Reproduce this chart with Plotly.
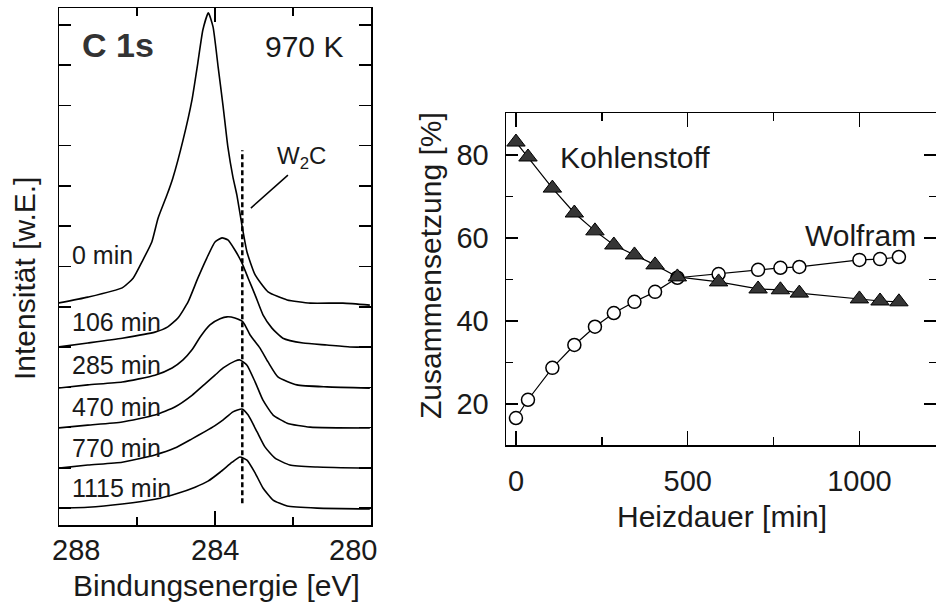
import plotly.graph_objects as go

# ---------------- Left panel: C 1s spectra (binding energy [eV], intensity [arb. units, stacked]) -------------
e_0 = [288.03, 287.26, 286.38, 286.10, 285.85, 285.62, 285.46, 285.23, 285.08, 284.82, 284.59, 284.44,
       284.31, 284.17, 284.05, 283.92, 283.79, 283.67, 283.54, 283.44, 283.31,
       283.18, 282.97, 282.64, 282.15, 281.56, 280.72, 280.03]
i_0 = [5.09, 5.24, 5.47, 5.71, 6.16, 6.61, 7.20, 7.78, 8.20, 9.14, 10.14, 11.06,
       11.88, 12.30, 11.95, 10.96, 9.96, 8.97, 8.22, 7.78, 7.03,
       6.36, 5.79, 5.37, 5.17, 5.09, 5.09, 5.04]

e_106 = [288.03, 287.26, 286.38, 285.54, 285.21, 284.95, 284.69, 284.44, 284.21, 284.00, 283.82, 283.67,
         283.49, 283.31, 283.15, 282.97, 282.77, 282.54, 282.26, 281.74, 281.13, 280.54, 280.03]
i_106 = [4.00, 4.10, 4.22, 4.37, 4.50, 4.72, 5.12, 5.71, 6.21, 6.61, 6.71, 6.66,
         6.41, 6.09, 5.71, 5.29, 4.80, 4.47, 4.22, 4.10, 4.05, 4.00, 4.00]

e_285 = [288.03, 287.26, 286.38, 285.54, 285.10, 284.82, 284.59, 284.38, 284.13, 283.87, 283.69, 283.49,
         283.28, 283.10, 282.85, 282.64, 282.38, 281.90, 281.13, 280.03]
i_285 = [2.98, 3.06, 3.13, 3.30, 3.48, 3.68, 3.93, 4.25, 4.55, 4.70, 4.75, 4.72,
         4.62, 4.30, 3.98, 3.63, 3.25, 3.06, 3.01, 2.98]

e_470 = [288.03, 287.26, 286.38, 285.54, 285.03, 284.59, 284.26, 284.00, 283.79, 283.49, 283.36, 283.18,
         282.97, 282.77, 282.51, 282.15, 281.56, 280.03]
i_470 = [1.99, 2.06, 2.14, 2.31, 2.51, 2.80, 3.08, 3.30, 3.48, 3.65, 3.68, 3.55,
         3.13, 2.68, 2.31, 2.11, 2.01, 1.99]

e_770 = [288.03, 287.26, 286.38, 285.54, 285.03, 284.59, 284.26, 284.00, 283.79, 283.54, 283.31, 283.15,
         282.92, 282.72, 282.46, 282.08, 281.38, 280.03]
i_770 = [0.99, 1.07, 1.14, 1.32, 1.49, 1.72, 1.90, 2.05, 2.19, 2.39, 2.46, 2.31,
         1.89, 1.52, 1.24, 1.07, 1.02, 0.99]

e_1115 = [288.03, 287.26, 286.38, 285.54, 284.95, 284.51, 284.18, 283.87, 283.56, 283.36, 283.18, 282.97,
          282.77, 282.51, 282.15, 281.38, 280.03]
i_1115 = [0.00, 0.02, 0.10, 0.22, 0.37, 0.52, 0.67, 0.89, 1.14, 1.27, 1.19, 0.87,
          0.50, 0.20, 0.05, 0.00, -0.02]

spectra = [(e_0, i_0), (e_106, i_106), (e_285, i_285), (e_470, i_470), (e_770, i_770), (e_1115, i_1115)]
spec_labels = ["0 min", "106 min", "285 min", "470 min", "770 min", "1115 min"]
spec_label_y = [6.29, 4.62, 3.55, 2.51, 1.49, 0.50]

w2c_energy = 283.3
w2c_line_y = [0.12, 8.89]

# ---------------- Right panel: composition vs heating time -------------
heizdauer = [0, 35, 106, 170, 230, 285, 345, 405, 470, 590, 705, 770, 825, 1000, 1060, 1115]
kohlenstoff = [83.1, 79.5, 72.0, 66.0, 61.7, 58.3, 55.9, 53.5, 50.6, 49.4, 47.7, 47.5, 46.7, 45.3, 44.8, 44.6]
wolfram = [16.6, 21.0, 28.7, 34.2, 38.6, 41.9, 44.6, 47.0, 50.4, 51.3, 52.3, 52.8, 53.0, 54.7, 54.9, 55.4]

left_xticks = [288, 284, 280]
left_xtick_shift = [17, 0, -18]   # edge labels sit inward of their ticks in the original
right_xticks = [0, 500, 1000]
right_yticks = [20, 40, 60, 80]

W, H = 936, 603
FONT = "Liberation Sans, Arial, Helvetica, sans-serif"
TXT = "#1a1a1a"


def px(x):
    return x / W


def py(y):
    return 1 - y / H


fig = go.Figure()

for (e, i) in spectra:
    fig.add_trace(go.Scatter(x=e, y=i, mode="lines", xaxis="x", yaxis="y",
                             line=dict(color="black", width=1.6, shape="spline", smoothing=0.5),
                             showlegend=False, hoverinfo="skip"))

fig.add_trace(go.Scatter(x=[w2c_energy, w2c_energy], y=w2c_line_y, mode="lines", xaxis="x", yaxis="y",
                         line=dict(color="black", width=2.5, dash="5px,3px"), showlegend=False))

# right panel
fig.add_trace(go.Scatter(x=heizdauer, y=wolfram, mode="lines+markers", xaxis="x2", yaxis="y2",
                         line=dict(color="black", width=1.2),
                         marker=dict(symbol="circle", size=13, color="white",
                                     line=dict(color="black", width=1.5)),
                         showlegend=False))
fig.add_trace(go.Scatter(x=heizdauer, y=kohlenstoff, mode="lines+markers", xaxis="x2", yaxis="y2",
                         line=dict(color="black", width=1.2),
                         marker=dict(symbol="triangle-up", size=16, color="#353535",
                                     line=dict(color="black", width=1)),
                         showlegend=False))

ax_common = dict(showline=True, linecolor="black", linewidth=1.5, mirror="ticks", ticks="inside",
                 tickcolor="black", tickwidth=1.5, showgrid=False, zeroline=False, automargin=False,
                 tickfont=dict(family=FONT, size=29, color=TXT), fixedrange=True)

fig.update_layout(
    template="none",
    width=W, height=H, margin=dict(l=0, r=0, t=0, b=0, autoexpand=False),
    paper_bgcolor="white", plot_bgcolor="white",
    xaxis=dict(domain=[px(59), px(371)], range=[288, 280], tickvals=left_xticks, ticklen=14,
               showticklabels=False,
               minor=dict(dtick=2, tick0=280, ticklen=8, ticks="inside", tickcolor="black", tickwidth=1.5),
               anchor="y", **ax_common),
    yaxis=dict(domain=[py(525), py(8)], range=[-0.42, 12.42], dtick=1, tick0=0, ticklen=12,
               showticklabels=False, anchor="x", **ax_common),
    xaxis2=dict(domain=[px(506), 1.0], range=[-29, 1223], tickvals=right_xticks, ticklen=14,
                minor=dict(dtick=250, tick0=0, ticklen=8, ticks="inside", tickcolor="black", tickwidth=1.5),
                ticklabelstandoff=10, anchor="y2", **ax_common),
    yaxis2=dict(domain=[py(445), py(113)], range=[10.1, 90.1], tickvals=right_yticks, ticklen=12,
                minor=dict(dtick=10, tick0=0, ticklen=7, ticks="inside", tickcolor="black", tickwidth=1.5),
                ticklabelstandoff=10, anchor="x2", **ax_common),
)

ann = []


def add_text(text, x, y, size, xref="paper", yref="paper", xanchor="center", yanchor="middle",
             angle=0, bold=False, color=TXT, xshift=0):
    ann.append(dict(text=text, x=x, y=y, xref=xref, yref=yref, xanchor=xanchor, yanchor=yanchor,
                    showarrow=False, textangle=angle, xshift=xshift,
                    font=dict(family=FONT, size=size, color=color, weight="bold" if bold else "normal")))


# left x tick labels (placed on the axis scale)
for tv, sh in zip(left_xticks, left_xtick_shift):
    add_text(str(tv), tv, py(550), 29, xref="x", xshift=sh)

# panel texts
add_text("C 1s", px(118), py(45), 34, bold=True, color="#333333")
add_text("970 K", px(304), py(47), 30)
add_text("W<sub>2</sub>C", 281.77, 8.70, 24, xref="x", yref="y")
for lab, yv in zip(spec_labels, spec_label_y):
    add_text(lab, 287.72, yv, 25, xref="x", yref="y", xanchor="left")

# axis titles
add_text("Bindungsenergie [eV]", px(216), py(585), 30)
add_text("Intensität [w.E.]", px(24), py(279), 30, angle=-90)
add_text("Heizdauer [min]", px(722), py(516), 30)
add_text("Zusammensetzung [%]", px(430), py(266), 30, angle=-90)

# series labels
add_text("Kohlenstoff", px(635), py(157), 30)
add_text("Wolfram", px(860), py(235), 30)

fig.update_layout(annotations=ann)

# pointer line from W2C label to dashed line
fig.add_shape(type="line", xref="x", yref="y", x0=282.13, y0=8.27, x1=283.08, y1=7.45,
              line=dict(color="black", width=1.5))

fig.write_html("out.html", config={"displayModeBar": False, "staticPlot": True},
               post_script="document.body.style.margin='0';document.body.style.overflow='hidden';")
